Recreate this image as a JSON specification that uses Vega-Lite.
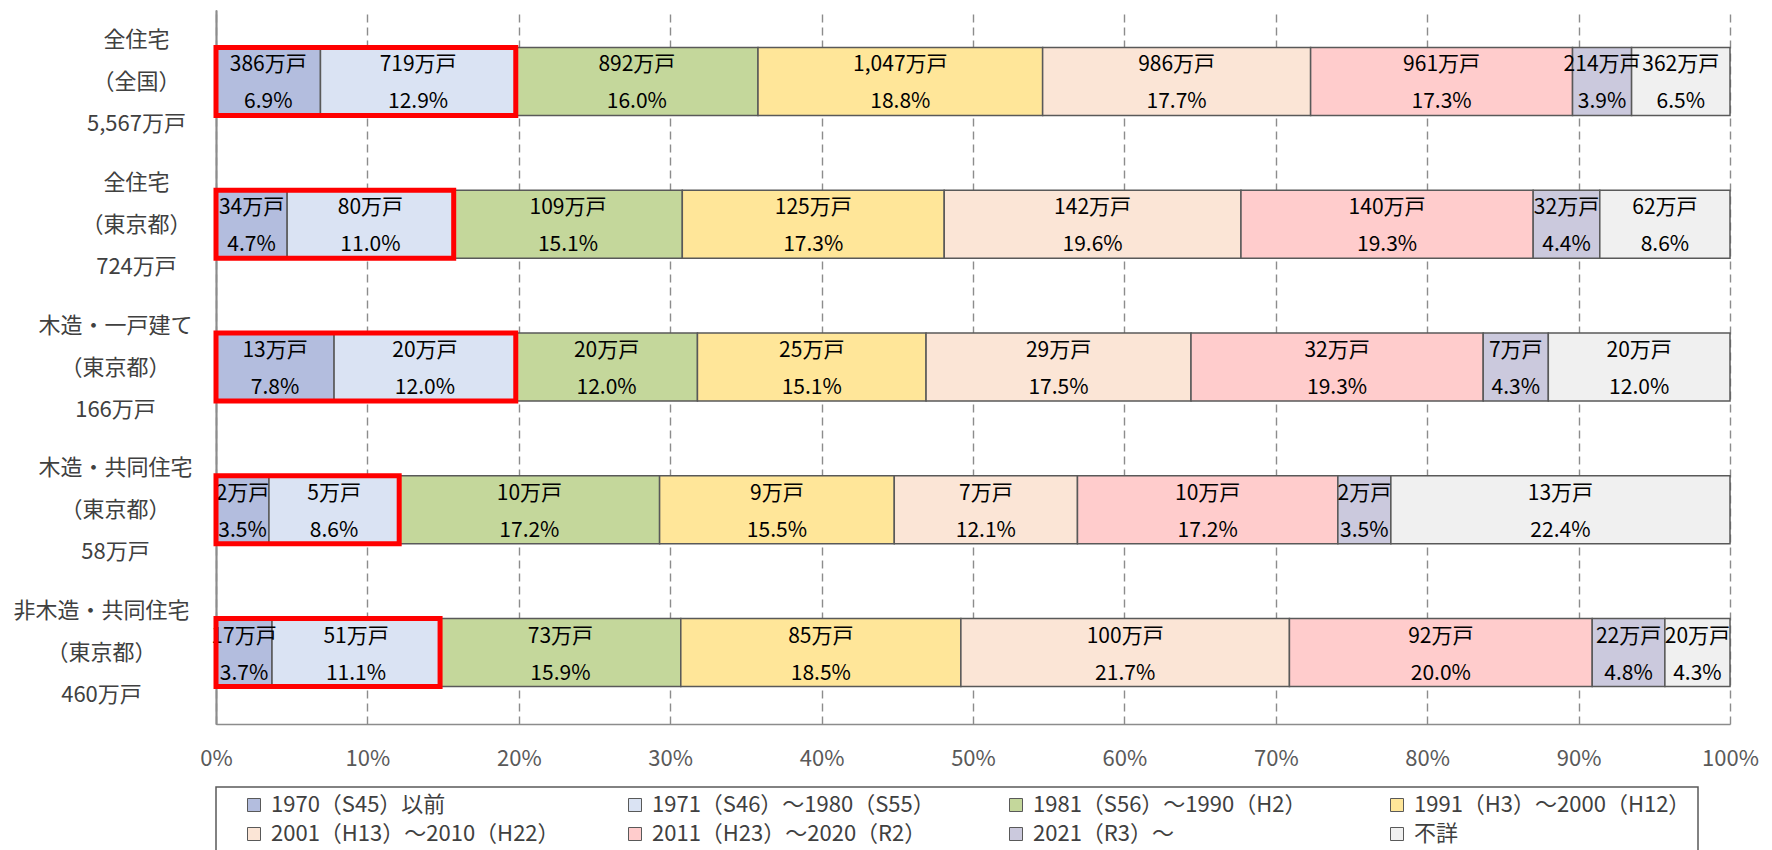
{
  "$schema": "https://vega.github.io/schema/vega-lite/v6.json",
  "width": 1514,
  "height": 714,
  "autosize": {"type": "none"},
  "padding": {"left": 216, "top": 10, "right": 42, "bottom": 126},
  "background": "white",
  "config": {
    "view": {"stroke": null},
    "font": "Noto Sans CJK JP",
    "legend": {"strokeWidth": 1.5},
    "axisY": {
      "labelAlign": "center",
      "labelBaseline": "middle",
      "labelFontSize": 22,
      "labelLineHeight": 42,
      "labelOffset": -42,
      "labelColor": "#404040",
      "labelFont": "Noto Sans CJK JP",
      "labelLimit": 400,
      "domainColor": "#8c8c8c",
      "domainWidth": 1.5,
      "ticks": true,
      "tickBand": "extent",
      "tickSize": -8,
      "tickColor": "#8c8c8c",
      "tickWidth": 1.5,
      "grid": false
    }
  },
  "resolve": {"axis": {"y": "independent"}},
  "data": {
    "values": [
      {"g": "全住宅|（全国）|5,567万戸", "p": "1970（S45）以前", "n": 386, "pct": 6.9},
      {"g": "全住宅|（全国）|5,567万戸", "p": "1971（S46）～1980（S55）", "n": 719, "pct": 12.9},
      {"g": "全住宅|（全国）|5,567万戸", "p": "1981（S56）～1990（H2）", "n": 892, "pct": 16.0},
      {"g": "全住宅|（全国）|5,567万戸", "p": "1991（H3）～2000（H12）", "n": 1047, "pct": 18.8},
      {"g": "全住宅|（全国）|5,567万戸", "p": "2001（H13）～2010（H22）", "n": 986, "pct": 17.7},
      {"g": "全住宅|（全国）|5,567万戸", "p": "2011（H23）～2020（R2）", "n": 961, "pct": 17.3},
      {"g": "全住宅|（全国）|5,567万戸", "p": "2021（R3）～", "n": 214, "pct": 3.9},
      {"g": "全住宅|（全国）|5,567万戸", "p": "不詳", "n": 362, "pct": 6.5},
      {"g": "全住宅|（東京都）|724万戸", "p": "1970（S45）以前", "n": 34, "pct": 4.7},
      {"g": "全住宅|（東京都）|724万戸", "p": "1971（S46）～1980（S55）", "n": 80, "pct": 11.0},
      {"g": "全住宅|（東京都）|724万戸", "p": "1981（S56）～1990（H2）", "n": 109, "pct": 15.1},
      {"g": "全住宅|（東京都）|724万戸", "p": "1991（H3）～2000（H12）", "n": 125, "pct": 17.3},
      {"g": "全住宅|（東京都）|724万戸", "p": "2001（H13）～2010（H22）", "n": 142, "pct": 19.6},
      {"g": "全住宅|（東京都）|724万戸", "p": "2011（H23）～2020（R2）", "n": 140, "pct": 19.3},
      {"g": "全住宅|（東京都）|724万戸", "p": "2021（R3）～", "n": 32, "pct": 4.4},
      {"g": "全住宅|（東京都）|724万戸", "p": "不詳", "n": 62, "pct": 8.6},
      {"g": "木造・一戸建て|（東京都）|166万戸", "p": "1970（S45）以前", "n": 13, "pct": 7.8},
      {"g": "木造・一戸建て|（東京都）|166万戸", "p": "1971（S46）～1980（S55）", "n": 20, "pct": 12.0},
      {"g": "木造・一戸建て|（東京都）|166万戸", "p": "1981（S56）～1990（H2）", "n": 20, "pct": 12.0},
      {"g": "木造・一戸建て|（東京都）|166万戸", "p": "1991（H3）～2000（H12）", "n": 25, "pct": 15.1},
      {"g": "木造・一戸建て|（東京都）|166万戸", "p": "2001（H13）～2010（H22）", "n": 29, "pct": 17.5},
      {"g": "木造・一戸建て|（東京都）|166万戸", "p": "2011（H23）～2020（R2）", "n": 32, "pct": 19.3},
      {"g": "木造・一戸建て|（東京都）|166万戸", "p": "2021（R3）～", "n": 7, "pct": 4.3},
      {"g": "木造・一戸建て|（東京都）|166万戸", "p": "不詳", "n": 20, "pct": 12.0},
      {"g": "木造・共同住宅|（東京都）|58万戸", "p": "1970（S45）以前", "n": 2, "pct": 3.5},
      {"g": "木造・共同住宅|（東京都）|58万戸", "p": "1971（S46）～1980（S55）", "n": 5, "pct": 8.6},
      {"g": "木造・共同住宅|（東京都）|58万戸", "p": "1981（S56）～1990（H2）", "n": 10, "pct": 17.2},
      {"g": "木造・共同住宅|（東京都）|58万戸", "p": "1991（H3）～2000（H12）", "n": 9, "pct": 15.5},
      {"g": "木造・共同住宅|（東京都）|58万戸", "p": "2001（H13）～2010（H22）", "n": 7, "pct": 12.1},
      {"g": "木造・共同住宅|（東京都）|58万戸", "p": "2011（H23）～2020（R2）", "n": 10, "pct": 17.2},
      {"g": "木造・共同住宅|（東京都）|58万戸", "p": "2021（R3）～", "n": 2, "pct": 3.5},
      {"g": "木造・共同住宅|（東京都）|58万戸", "p": "不詳", "n": 13, "pct": 22.4},
      {"g": "非木造・共同住宅|（東京都）|460万戸", "p": "1970（S45）以前", "n": 17, "pct": 3.7},
      {"g": "非木造・共同住宅|（東京都）|460万戸", "p": "1971（S46）～1980（S55）", "n": 51, "pct": 11.1},
      {"g": "非木造・共同住宅|（東京都）|460万戸", "p": "1981（S56）～1990（H2）", "n": 73, "pct": 15.9},
      {"g": "非木造・共同住宅|（東京都）|460万戸", "p": "1991（H3）～2000（H12）", "n": 85, "pct": 18.5},
      {"g": "非木造・共同住宅|（東京都）|460万戸", "p": "2001（H13）～2010（H22）", "n": 100, "pct": 21.7},
      {"g": "非木造・共同住宅|（東京都）|460万戸", "p": "2011（H23）～2020（R2）", "n": 92, "pct": 20.0},
      {"g": "非木造・共同住宅|（東京都）|460万戸", "p": "2021（R3）～", "n": 22, "pct": 4.8},
      {"g": "非木造・共同住宅|（東京都）|460万戸", "p": "不詳", "n": 20, "pct": 4.3}
    ]
  },
  "layer": [
    {
      "mark": {"type": "bar", "stroke": "#595959", "strokeWidth": 1.5},
      "encoding": {
        "y": {
          "field": "g",
          "type": "nominal",
          "title": null,
          "scale": {
            "domain": ["全住宅|（全国）|5,567万戸", "全住宅|（東京都）|724万戸", "木造・一戸建て|（東京都）|166万戸", "木造・共同住宅|（東京都）|58万戸", "非木造・共同住宅|（東京都）|460万戸"],
            "paddingInner": 0.524,
            "paddingOuter": 0.262
          },
          "axis": {
            "orient": "left",
            "labelExpr": "indexof(datum.label, '全住宅') == 0 ? split(datum.label, '|') : ''",
            "labelPadding": 88
          }
        },
        "x": {
          "field": "pct",
          "type": "quantitative",
          "stack": "zero",
          "title": null,
          "scale": {"domain": [0, 100], "nice": false},
          "axis": {
            "values": [0, 10, 20, 30, 40, 50, 60, 70, 80, 90, 100],
            "labelExpr": "datum.value + '%'",
            "labelFontSize": 22,
            "labelColor": "#595959",
            "labelFont": "Noto Sans CJK JP",
            "labelBaseline": "middle",
            "labelPadding": 34,
            "labelFlush": false,
            "labelOverlap": false,
            "ticks": false,
            "domainColor": "#8c8c8c",
            "domainWidth": 1.5,
            "grid": true,
            "gridColor": "#8c8c8c",
            "gridDash": [8, 5],
            "gridWidth": 1.4
          }
        },
        "color": {
          "field": "p",
          "type": "nominal",
          "title": null,
          "scale": {
            "domain": ["1970（S45）以前", "1971（S46）～1980（S55）", "1981（S56）～1990（H2）", "1991（H3）～2000（H12）", "2001（H13）～2010（H22）", "2011（H23）～2020（R2）", "2021（R3）～", "不詳"],
            "range": ["#B3BDDE", "#DAE3F3", "#C4D79B", "#FFE699", "#FBE5D6", "#FFCCCC", "#CBC9DD", "#F0F0F0"]
          },
          "legend": {
            "orient": "none",
            "legendX": 0,
            "legendY": 777,
            "direction": "horizontal",
            "columns": 4,
            "gridAlign": "all",
            "columnPadding": 44,
            "rowPadding": 7,
            "padding": 7,
            "strokeColor": "#595959",
            "symbolType": "square",
            "symbolSize": 169,
            "symbolStrokeColor": "#595959",
            "symbolStrokeWidth": 1,
            "symbolOffset": 20,
            "labelOffset": 6,
            "labelFontSize": 22,
            "labelColor": "#404040",
            "labelFont": "Noto Sans CJK JP",
            "labelLimit": 500
          }
        }
      }
    },
    {
      "mark": {"type": "text", "dy": -16, "fontSize": 21, "color": "#000000", "font": "Noto Sans CJK JP", "text": {"expr": "format(datum.n, ',') + '万戸'"}},
      "encoding": {
        "y": {
          "field": "g",
          "type": "nominal",
          "title": null,
          "axis": {
            "orient": "left",
            "labelExpr": "indexof(datum.label, '木造') == 0 ? split(datum.label, '|') : ''",
            "labelPadding": 109
          }
        },
        "x": {"field": "pct", "type": "quantitative", "stack": "zero", "bandPosition": 0.5, "title": null},
        "detail": {"field": "p"}
      }
    },
    {
      "mark": {"type": "text", "dy": 21, "fontSize": 21, "color": "#000000", "font": "Noto Sans CJK JP", "text": {"expr": "format(datum.pct, '.1f') + '%'"}},
      "encoding": {
        "y": {
          "field": "g",
          "type": "nominal",
          "title": null,
          "axis": {
            "orient": "left",
            "labelExpr": "indexof(datum.label, '非木造') == 0 ? split(datum.label, '|') : ''",
            "labelPadding": 123
          }
        },
        "x": {"field": "pct", "type": "quantitative", "stack": "zero", "bandPosition": 0.5, "title": null},
        "detail": {"field": "p"}
      }
    },
    {
      "transform": [
        {"filter": {"field": "p", "oneOf": ["1970（S45）以前", "1971（S46）～1980（S55）"]}},
        {"aggregate": [{"op": "sum", "field": "pct", "as": "hl"}], "groupby": ["g"]}
      ],
      "mark": {"type": "bar", "fill": "transparent", "stroke": "#FF0000", "strokeWidth": 5},
      "encoding": {
        "y": {"field": "g", "type": "nominal", "title": null, "axis": null},
        "x": {"field": "hl", "type": "quantitative", "title": null}
      }
    }
  ]
}
